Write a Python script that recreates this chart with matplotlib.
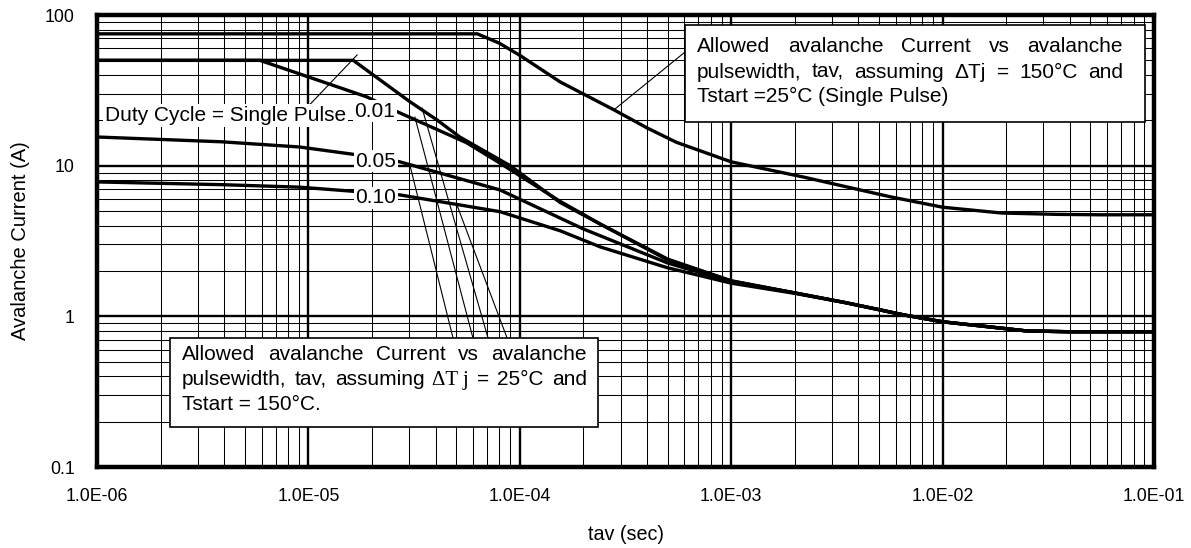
import numpy as np
import matplotlib
matplotlib.use('Agg')
import matplotlib.pyplot as plt
from matplotlib.transforms import Affine2D
from matplotlib.patches import Rectangle
from matplotlib.ticker import FixedLocator, FixedFormatter, LogLocator, NullFormatter

plt.rcParams['font.family'] = ['Liberation Sans', 'DejaVu Sans']

# ---------------- data ----------------
x_ticks = [1e-6, 1e-5, 1e-4, 1e-3, 1e-2, 1e-1]
x_tick_labels = ['1.0E-06', '1.0E-05', '1.0E-04', '1.0E-03', '1.0E-02', '1.0E-01']
y_ticks = [0.1, 1, 10, 100]
y_tick_labels = ['0.1', '1', '10', '100']

# dTj = 150C, Tstart = 25C (single pulse)
t_150 = [1e-6, 6.3e-5, 8e-5, 1e-4, 1.55e-4, 2.8e-4, 4e-4, 5.5e-4, 1e-3, 2.2e-3, 5.7e-3, 1e-2, 1.9e-2, 3.5e-2, 5.6e-2, 1e-1]
i_150 = [75, 75, 65, 54, 36, 23.4, 17.8, 14.3, 10.6, 8.4, 6.2, 5.3, 4.85, 4.75, 4.72, 4.72]

# dTj = 25C, Tstart = 150C
t_single = [1e-6, 1.63e-5, 3.03e-5, 4.06e-5, 5.2e-5, 9e-5, 1.55e-4, 2.4e-4, 5e-4, 1e-3, 2e-3, 3.5e-3, 6.6e-3, 1e-2, 2.5e-2, 4e-2, 1e-1]
i_single = [50, 50, 26.5, 20.1, 15.5, 10.0, 5.7, 4.1, 2.4, 1.72, 1.43, 1.23, 1.02, 0.92, 0.80, 0.79, 0.79]

t_d001 = [1e-6, 5.9e-6, 1.89e-5, 2.65e-5, 5.6e-5, 8.06e-5, 1.55e-4, 2.4e-4, 5e-4, 1e-3, 2e-3, 3.5e-3, 6.6e-3, 1e-2, 2.5e-2, 4e-2, 1e-1]
i_d001 = [50, 50, 28.6, 22.7, 14.2, 10.4, 5.8, 4.1, 2.37, 1.72, 1.43, 1.23, 1.02, 0.92, 0.80, 0.79, 0.79]

t_d005 = [1e-6, 3.9e-6, 9.1e-6, 1.7e-5, 2.71e-5, 8.06e-5, 2e-4, 5e-4, 1e-3, 2e-3, 3.5e-3, 6.6e-3, 1e-2, 2.5e-2, 4e-2, 1e-1]
i_d005 = [15.5, 14.4, 13.3, 11.8, 10.6, 6.9, 3.8, 2.26, 1.70, 1.43, 1.23, 1.02, 0.92, 0.80, 0.79, 0.79]

t_d010 = [1e-6, 3.9e-6, 9.1e-6, 2.7e-5, 8.06e-5, 1.55e-4, 2.4e-4, 5e-4, 1e-3, 2e-3, 3.5e-3, 6.6e-3, 1e-2, 2.5e-2, 4e-2, 1e-1]
i_d010 = [7.8, 7.48, 7.2, 6.4, 4.95, 3.7, 2.89, 2.1, 1.66, 1.42, 1.23, 1.02, 0.92, 0.80, 0.79, 0.79]

# ---------------- figure ----------------
W, H = 1191, 548
fig = plt.figure(figsize=(W / 100, H / 100), dpi=100)
L, R, T, B = 97, 1154, 15, 467
ax = fig.add_axes([L / W, 1 - B / H, (R - L) / W, (B - T) / H])
ax.set_xscale('log')
ax.set_yscale('log')
ax.set_xlim(1e-6, 1e-1)
ax.set_ylim(0.1, 100)

ax.xaxis.set_major_locator(FixedLocator(x_ticks))
ax.xaxis.set_major_formatter(FixedFormatter(x_tick_labels))
ax.yaxis.set_major_locator(FixedLocator(y_ticks))
ax.yaxis.set_major_formatter(FixedFormatter(y_tick_labels))
for axis in (ax.xaxis, ax.yaxis):
    axis.set_minor_locator(LogLocator(base=10, subs=np.arange(2, 10), numticks=100))
    axis.set_minor_formatter(NullFormatter())

ax.set_axisbelow(True)
ax.grid(which='major', color='black', lw=1.7)
ax.grid(which='minor', color='black', lw=0.75)
ax.tick_params(which='both', length=0, labelsize=12.8)
ax.tick_params(axis='x', pad=15)
ax.tick_params(axis='y', pad=16)
for s in ax.spines.values():
    s.set_linewidth(3.2)
    s.set_zorder(6)

curve_kw = dict(color='black', lw=2.4, solid_capstyle='butt', solid_joinstyle='round', zorder=3)
ax.plot(t_150, i_150, **curve_kw)
ax.plot(t_single, i_single, **curve_kw)
ax.plot(t_d001, i_d001, **curve_kw)
ax.plot(t_d005, i_d005, **curve_kw)
ax.plot(t_d010, i_d010, **curve_kw)

# leader lines (layout)
lead_kw = dict(color='black', lw=0.8, zorder=3.5)
ax.plot([1.02e-5, 1.70e-5], [25.6, 54.3], **lead_kw)
ax.plot([2.78e-4, 6.04e-4], [23.4, 56.7], **lead_kw)
for (x0, y0, x1) in [(3.02e-5, 10.1, 4.83e-5), (3.19e-5, 21.0, 6.0e-5),
                     (3.45e-5, 24.1, 7.07e-5), (5.05e-5, 5.45, 8.7e-5)]:
    ax.plot([x0, x1], [y0, 0.72], **lead_kw)

ax.set_xlabel('tav (sec)', fontsize=14.2)
ax.set_ylabel('Avalanche Current (A)', fontsize=14.5)
ax.xaxis.label.set_va('center')
ax.yaxis.label.set_va('center')
ax.xaxis.set_label_coords(0.5, (B - 535) / (B - T))
ax.yaxis.set_label_coords((21 - L) / (R - L), 0.5)

# ---------------- annotations (pixel layout) ----------------
pix = Affine2D().scale(1, -1).translate(0, H)
FS = 15.0

def label(x, yb, s, ha='center', pad=1.0):
    fig.text(x, yb, s, transform=pix, fontsize=FS, ha=ha, va='baseline', zorder=5,
             bbox=dict(facecolor='white', edgecolor='none', pad=pad))

label(105, 120.7, 'Duty Cycle = Single Pulse', ha='left', pad=1.5)
label(375, 116.7, '0.01')
label(376, 166.7, '0.05')
label(376, 203.3, '0.10')

fig.add_artist(Rectangle((685, 25), 460, 97, transform=pix, facecolor='white',
                         edgecolor='black', lw=1.2, zorder=4))
fig.add_artist(Rectangle((170, 338), 428, 89, transform=pix, facecolor='white',
                         edgecolor='black', lw=1.2, zorder=4))

renderer = fig.canvas.get_renderer()

def justified(words, x0, x1, yb, fams=None):
    texts, widths = [], []
    for k, w in enumerate(words):
        fam = fams[k] if fams and fams[k] else ['Liberation Sans', 'DejaVu Sans']
        t = fig.text(0, 0, w, transform=pix, fontsize=FS, ha='left', va='baseline',
                     zorder=5, family=fam)
        widths.append(t.get_window_extent(renderer).width)
        texts.append(t)
    gap = (x1 - x0 - sum(widths)) / (len(words) - 1)
    x = x0
    for t, wd in zip(texts, widths):
        t.set_position((x, yb))
        x += wd + gap

def plain(s, x0, yb):
    fig.text(x0, yb, s, transform=pix, fontsize=FS, ha='left', va='baseline', zorder=5)

justified(['Allowed', 'avalanche', 'Current', 'vs', 'avalanche'], 697, 1123, 51.7)
justified(['pulsewidth,', 'tav,', 'assuming', '\u0394Tj', '=', '150\u00b0C', 'and'], 697, 1123, 77.5)
plain('Tstart =25\u00b0C (Single Pulse)', 697, 102.5)

justified(['Allowed', 'avalanche', 'Current', 'vs', 'avalanche'], 182, 587, 359.5)
justified(['pulsewidth,', 'tav,', 'assuming', '\u0394T j', '=', '25\u00b0C', 'and'], 182, 587, 385,
          fams=[None, None, None, ['Liberation Serif', 'DejaVu Serif'], None, None, None])
plain('Tstart = 150\u00b0C.', 182, 410.5)

fig.savefig('out.png', dpi=100)
